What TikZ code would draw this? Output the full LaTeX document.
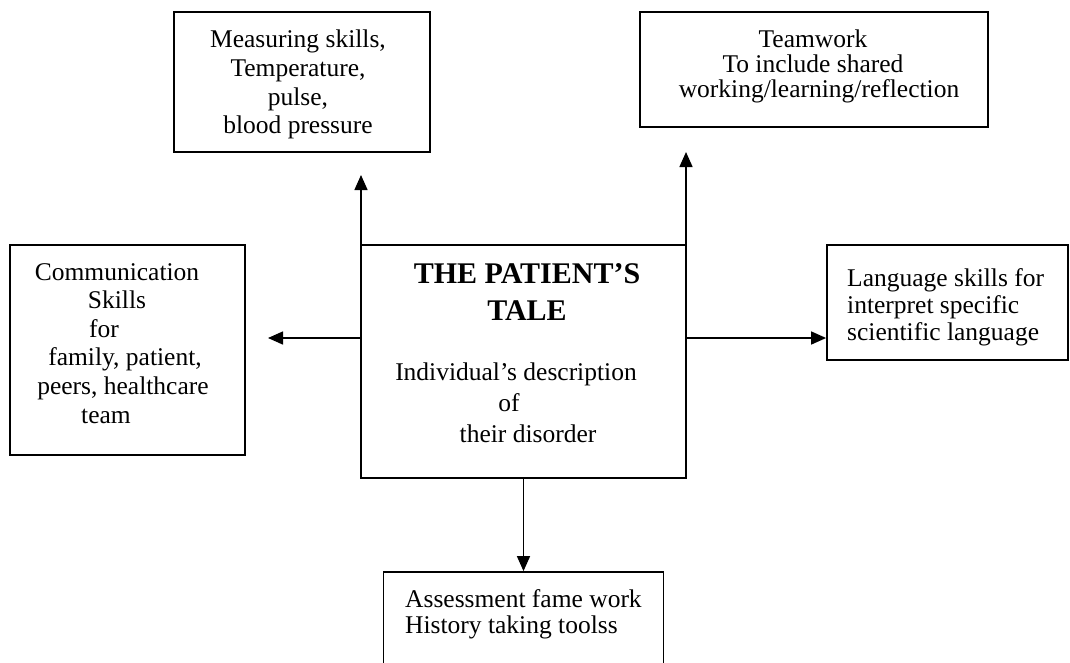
\documentclass[tikz,border=0pt]{standalone}
\usepackage{fontspec}
\setmainfont{Liberation Serif}
\usetikzlibrary{arrows.meta}
\begin{document}
\begin{tikzpicture}[x=1pt,y=-1pt,
  box/.style={draw=black, line width=1.8pt, inner sep=0pt, fill=none},
  txt/.style={inner sep=0pt, anchor=north, align=center, font=\fontsize{25.5}{28.6}\selectfont},
  ltxt/.style={inner sep=0pt, anchor=north west, align=left, font=\fontsize{25.5}{27}\selectfont},
  arr/.style={draw=black, line width=1.5pt, -{Triangle[length=15pt,width=13pt]}}]
\useasboundingbox (0,0) rectangle (1070,662);
\fill[white] (0,0) rectangle (1070,662);
% boxes
\node[box, minimum width=256pt, minimum height=140pt] (meas) at (302,82) {};
\node[box, minimum width=348pt, minimum height=115pt] (team) at (814,69.5) {};
\node[box, minimum width=235pt, minimum height=210pt] (comm) at (127.5,350) {};
\node[box, minimum width=325pt, minimum height=233pt] (center) at (523.5,361.5) {};
\node[box, minimum width=241pt, minimum height=115pt] (lang) at (947.5,302.5) {};
\node[box, minimum width=280pt, minimum height=110pt] (bot) at (523.5,627) {};
% texts
\node[txt] (meastxt) at (298,30) {Measuring skills,\\Temperature,\\pulse,\\blood pressure};
\node[txt, font=\fontsize{25.5}{25}\selectfont] (teamtxt) at (813,30) {Teamwork\\To include shared\\\hspace*{12pt}working/learning/reflection};
\node[txt] (commtxt) at (117,263) {Communication\\Skills\\\hspace*{-26pt}for\\\hspace*{16pt}family, patient,\\\hspace*{12pt}peers, healthcare\\\hspace*{-22pt}team};
\node[txt, font=\fontsize{30}{37}\selectfont\bfseries] (title) at (527,263) {THE PATIENT’S\\TALE};
\node[txt, font=\fontsize{25.5}{31}\selectfont] (desc) at (516,363) {Individual’s description\\\hspace*{-14pt}of\\\hspace*{24pt}their disorder};
\node[ltxt] (langtxt) at (847,268) {Language skills for\\interpret specific\\scientific language};
\node[ltxt, font=\fontsize{25.5}{26}\selectfont] (bottxt) at (405,589) {Assessment fame work\\History taking toolss};
% connector end points
\coordinate (mid) at (0,338);
\coordinate (measTip) at (361,175);
\coordinate (teamTip) at (686,152);
\coordinate (commTip) at (268,338);
% connectors
\draw[arr] (measTip |- center.north) -- (measTip);
\draw[arr] (teamTip |- center.north) -- (teamTip);
\draw[arr] (center.west |- mid) -- (commTip);
\draw[arr] (center.east |- mid) -- (lang.west |- mid);
\draw[arr] (center.south) -- (bot.north);
\end{tikzpicture}
\end{document}
